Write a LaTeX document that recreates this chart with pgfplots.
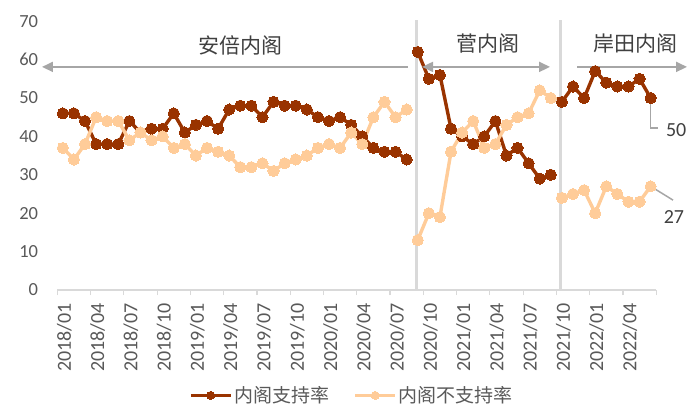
\documentclass[border=0pt]{standalone}
\usepackage{fontspec}
\setmainfont{Carlito}
\newfontfamily\cjk{Noto Sans CJK SC}
\usepackage{pgfplots}
\pgfplotsset{compat=1.18}
\usepackage{pgfplotstable}
\usetikzlibrary{arrows.meta}

\definecolor{support}{HTML}{993300}
\definecolor{oppose}{HTML}{FFCC99}
\definecolor{axisgray}{HTML}{D9D9D9}
\definecolor{arrowgray}{HTML}{A6A6A6}
\definecolor{ticktext}{HTML}{595959}
\definecolor{labeltext}{HTML}{404040}

% month index (0 = 2018/01), support, non-support
\pgfplotstableread{
idx sup opp
0  46 37
1  46 34
2  44 38
3  38 45
4  38 44
5  38 44
6  44 39
7  41 41
8  42 39
9  42 40
10 46 37
11 41 38
12 43 35
13 44 37
14 42 36
15 47 35
16 48 32
17 48 32
18 45 33
19 49 31
20 48 33
21 48 34
22 47 35
23 45 37
24 44 38
25 45 37
26 43 41
27 40 38
28 37 45
29 36 49
30 36 45
31 34 47
32 62 13
33 55 20
34 56 19
35 42 36
36 40 41
37 38 44
38 40 37
39 44 38
40 35 43
41 37 45
42 33 46
43 29 52
44 30 50
45 49 24
46 53 25
47 50 26
48 57 20
49 54 27
50 53 25
51 53 23
52 55 23
53 50 27
}\polls

\pgfplotsset{
    supline/.style={color=support, line width=3.4bp, mark=*, mark size=5.6bp,
        mark options={line width=0pt, fill=support, draw=support}},
    oppline/.style={color=oppose, line width=3.4bp, mark=*, mark size=5.6bp,
        mark options={line width=0pt, fill=oppose, draw=oppose}},
}

\begin{document}
\begin{tikzpicture}
\useasboundingbox (0,0) rectangle (700bp,420bp);
\begin{axis}[
    at={(57.3bp,130bp)}, anchor=south west,
    scale only axis, width=598.9bp, height=268.8bp,
    xmin=-0.5, xmax=53.5, ymin=0, ymax=70,
    clip=false,
    axis x line*=bottom, axis y line*=left,
    x axis line style={draw=axisgray, line width=1.2bp},
    y axis line style={draw=none},
    major tick length=0pt,
    xtick={0,3,...,51},
    xticklabels={2018/01,2018/04,2018/07,2018/10,2019/01,2019/04,2019/07,2019/10,
        2020/01,2020/04,2020/07,2020/10,2021/01,2021/04,2021/07,2021/10,2022/01,2022/04},
    xtick style={draw=none},
    extra x ticks={-0.5,2.5,...,53.5},
    extra x tick labels={},
    extra x tick style={major tick length=5bp, tick align=outside,
        xtick style={draw=axisgray, line width=1.2bp}},
    ytick={0,10,...,70},
    ytick style={draw=none},
    /pgf/number format/assume math mode=true,
    tick label style={font=\fontsize{18.5bp}{22bp}\selectfont, text=ticktext},
    % shifts below act in the rotated frame: xshift<0 moves down, yshift<0 moves right
    xticklabel style={font=\fontsize{20bp}{24bp}\selectfont,
        rotate=90, anchor=east, inner sep=0pt, xshift=-13bp, yshift=-1.5bp},
    yticklabel style={anchor=east, inner sep=0pt, xshift=-19bp},
    legend columns=2,
    legend style={at={(0.492,-0.392)}, anchor=center, draw=none, fill=none,
        font=\cjk\fontsize{19bp}{22bp}\selectfont, text=ticktext,
        /tikz/every even column/.append style={column sep=22bp}},
    legend image code/.code={
        \draw[#1, mark repeat=2, mark phase=2, mark size=4bp]
            plot coordinates {(0bp,0bp) (20bp,0bp) (40bp,0bp)};
    },
]
    % cabinet separators
    \draw[axisgray, line width=3bp] (axis cs:31.9,0) -- (axis cs:31.9,70.3);
    \draw[axisgray, line width=3bp] (axis cs:44.85,0) -- (axis cs:44.85,70.3);

    % leader lines for the last values
    \draw[arrowgray, line width=1.5bp] (axis cs:53,50) -- (axis cs:53,42.2) -- (axis cs:53.67,42.2);
    \draw[arrowgray, line width=1.5bp] (axis cs:53,27) -- (axis cs:55.02,23.4);

    \addplot[supline, restrict x to domain=0:31] table[x=idx, y=sup] {\polls};
    \addlegendentry{内阁支持率}
    \addplot[supline, restrict x to domain=32:44, forget plot] table[x=idx, y=sup] {\polls};
    \addplot[supline, restrict x to domain=45:53, forget plot] table[x=idx, y=sup] {\polls};

    \addplot[oppline, restrict x to domain=0:31] table[x=idx, y=opp] {\polls};
    \addlegendentry{内阁不支持率}
    \addplot[oppline, restrict x to domain=32:44, forget plot] table[x=idx, y=opp] {\polls};
    \addplot[oppline, restrict x to domain=45:53, forget plot] table[x=idx, y=opp] {\polls};

    % cabinet spans
    \draw[arrowgray, line width=1.8bp, {Triangle[length=11bp,width=10bp]}-]
        (axis cs:-1.88,58.1) -- (axis cs:31.12,58.1);
    \draw[arrowgray, line width=1.8bp, {Triangle[length=11bp,width=10bp]}-{Triangle[length=11bp,width=10bp]}]
        (axis cs:32.39,58.1) -- (axis cs:43.93,58.1);
    \draw[arrowgray, line width=1.8bp, -{Triangle[length=11bp,width=10bp]}]
        (axis cs:46.36,58.1) -- (axis cs:56.28,58.1);

    \node[font=\cjk\fontsize{21bp}{25bp}\selectfont, text=labeltext] at (axis cs:16.0,63.75) {安倍内阁};
    \node[font=\cjk\fontsize{21bp}{25bp}\selectfont, text=labeltext] at (axis cs:38.3,64.3) {菅内阁};
    \node[font=\cjk\fontsize{21bp}{25bp}\selectfont, text=labeltext] at (axis cs:51.6,64.3) {岸田内阁};

    \node[font=\fontsize{20bp}{24bp}\selectfont, text=labeltext] at (axis cs:55.3,41.7) {50};
    \node[font=\fontsize{20bp}{24bp}\selectfont, text=labeltext] at (axis cs:55.1,19.1) {27};
\end{axis}
\end{tikzpicture}
\end{document}
